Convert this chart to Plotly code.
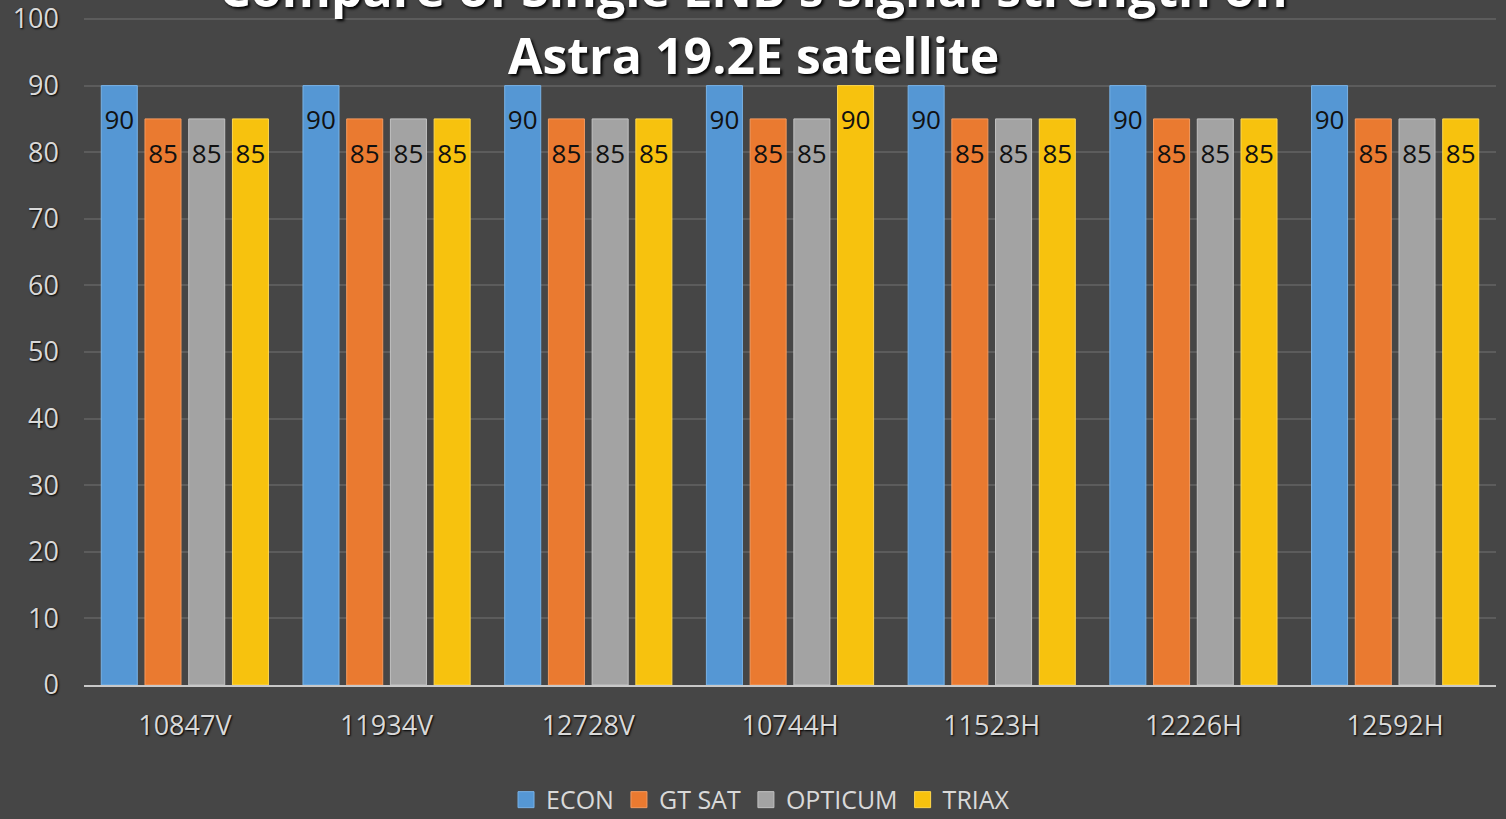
import plotly.graph_objects as go

categories = ["10847V", "11934V", "12728V", "10744H", "11523H", "12226H", "12592H"]
econ = [90, 90, 90, 90, 90, 90, 90]
gt_sat = [85, 85, 85, 85, 85, 85, 85]
opticum = [85, 85, 85, 85, 85, 85, 85]
triax = [85, 85, 85, 90, 85, 85, 85]

series_names = ["ECON", "GT SAT", "OPTICUM", "TRIAX"]
series_values = [econ, gt_sat, opticum, triax]
colors = ["#5597d4", "#ea7a30", "#a3a3a3", "#f7c20e"]
edges = ["#78b2e6", "#f49a5e", "#c2c2c2", "#ffd84d"]

title_line1 = "Compare of Single LNB's signal strength on"
title_line2 = "Astra 19.2E satellite"

FONT = "Open Sans"
TXT = "#d9d9d9"

fig = go.Figure()
for i, (name, vals) in enumerate(zip(series_names, series_values)):
    fig.add_trace(go.Bar(
        x=categories, y=vals, name=name, offsetgroup=str(i),
        marker=dict(color=colors[i], line=dict(color=edges[i], width=1)),
        hoverinfo="skip", showlegend=False,
    ))
for i, (name, vals) in enumerate(zip(series_names, series_values)):
    fig.add_trace(go.Scatter(
        x=categories, y=vals, name=name, offsetgroup=str(i),
        mode="markers+text", text=[str(v) for v in vals],
        textposition="bottom center",
        marker=dict(size=37, opacity=0),
        textfont=dict(family=FONT, size=26, color="#111111"),
        showlegend=False, hoverinfo="skip", cliponaxis=False,
    ))
# legend entries (larger square swatches)
for i, name in enumerate(series_names):
    fig.add_trace(go.Scatter(
        x=[categories[0]], y=[None], name=name, offsetgroup=str(i),
        mode="markers",
        marker=dict(symbol="square", size=18, color=colors[i],
                    line=dict(color=edges[i], width=1)),
        showlegend=True, hoverinfo="skip",
    ))

title_font = dict(family=FONT, size=50, color="white", weight="bold",
                  shadow="2px 2px 3px #000000")
fig.add_annotation(text=title_line1, xref="paper", yref="paper", x=0.4745, y=1,
                   yshift=29, showarrow=False, yanchor="middle", font=title_font)
fig.add_annotation(text=title_line2, xref="paper", yref="paper", x=0.4745, y=1,
                   yshift=-38, showarrow=False, yanchor="middle", font=title_font)

fig.update_layout(
    width=1506, height=819, autosize=False,
    margin=dict(l=84, r=10, t=17, b=134, autoexpand=False),
    paper_bgcolor="#464646", plot_bgcolor="rgba(0,0,0,0)",
    barmode="group", bargap=0.133, bargroupgap=0.176,
    scattermode="group", scattergap=0.133,
    font=dict(family=FONT, color=TXT, size=26),
    showlegend=True,
    legend=dict(orientation="h", xref="container", x=0.505, xanchor="center",
                yref="paper", y=-0.172, yanchor="middle",
                font=dict(family=FONT, size=25, color=TXT),
                itemwidth=30, tracegroupgap=0,
                bgcolor="rgba(0,0,0,0)", traceorder="normal"),
    xaxis=dict(showgrid=False, showline=True, linecolor="#c8c8c8", linewidth=2,
               ticks="", tickfont=dict(family=FONT, size=27, color=TXT,
                                       shadow="1px 1px 2px #000000"),
               ticklabelstandoff=16, tickangle=0, fixedrange=True),
    yaxis=dict(range=[0, 100.3], tick0=0, dtick=10, showgrid=True, gridcolor="#5c5c5c",
               gridwidth=1.5, zeroline=False, showline=False, ticks="",
               tickfont=dict(family=FONT, size=27, color=TXT,
                             shadow="1px 1px 2px #000000"),
               ticklabeloverflow="allow",
               ticklabelstandoff=24, fixedrange=True),
)

fig.write_html("out.html", config={"responsive": False, "displayModeBar": False},
               post_script="document.body.style.margin='0';")
